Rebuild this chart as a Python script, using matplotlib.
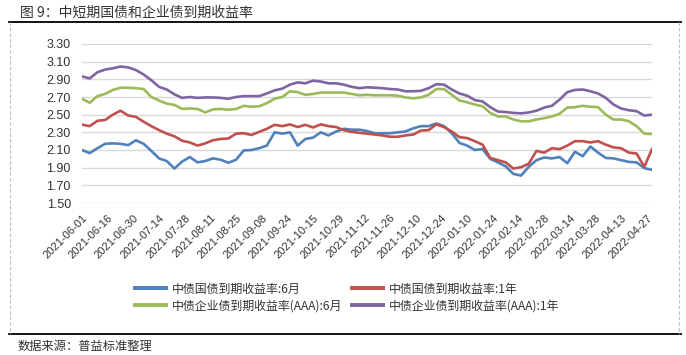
import numpy as np
import matplotlib
matplotlib.use('Agg')
import matplotlib.pyplot as plt
from matplotlib.lines import Line2D

CJK = ['Noto Sans CJK SC', 'DejaVu Sans']

# trading-day index of each sample (every 3rd trading day from 2021-06-01)
day_idx = list(range(0, 223, 3))

tick_dates = ['2021-06-01', '2021-06-16', '2021-06-30', '2021-07-14', '2021-07-28',
              '2021-08-11', '2021-08-25', '2021-09-08', '2021-09-24', '2021-10-15',
              '2021-10-29', '2021-11-12', '2021-11-26', '2021-12-10', '2021-12-24',
              '2022-01-10', '2022-01-24', '2022-02-14', '2022-02-28', '2022-03-14',
              '2022-03-28', '2022-04-13', '2022-04-27']

gov_6m = [2.10, 2.065, 2.12, 2.17, 2.175, 2.17, 2.155, 2.21, 2.17, 2.09,
          2.005, 1.975, 1.89, 1.97, 2.02, 1.96, 1.975, 2.005, 1.99, 1.955,
          1.99, 2.095, 2.10, 2.12, 2.15, 2.30, 2.285, 2.30, 2.15, 2.225,
          2.24, 2.30, 2.265, 2.31, 2.34, 2.33, 2.33, 2.315, 2.29, 2.29,
          2.29, 2.30, 2.31, 2.345, 2.37, 2.37, 2.40, 2.37, 2.29, 2.18,
          2.15, 2.10, 2.11, 2.00, 1.96, 1.915, 1.83, 1.81, 1.91, 1.985,
          2.015, 2.005, 2.02, 1.95, 2.08, 2.03, 2.14, 2.07, 2.01, 2.005,
          1.985, 1.965, 1.96, 1.895, 1.875]

gov_1y = [2.387, 2.37, 2.43, 2.44, 2.50, 2.545, 2.49, 2.475, 2.42, 2.37,
          2.325, 2.285, 2.255, 2.205, 2.185, 2.15, 2.175, 2.21, 2.225, 2.23,
          2.285, 2.29, 2.27, 2.305, 2.34, 2.385, 2.37, 2.39, 2.36, 2.385,
          2.355, 2.39, 2.37, 2.36, 2.325, 2.305, 2.295, 2.285, 2.275, 2.265,
          2.25, 2.25, 2.265, 2.275, 2.32, 2.325, 2.39, 2.36, 2.31, 2.245,
          2.235, 2.20, 2.16, 2.01, 1.985, 1.96, 1.89, 1.905, 1.945, 2.09,
          2.07, 2.12, 2.11, 2.15, 2.20, 2.20, 2.185, 2.20, 2.16, 2.13,
          2.12, 2.07, 2.06, 1.91, 2.11]

corp_6m = [2.68, 2.635, 2.71, 2.735, 2.78, 2.805, 2.805, 2.80, 2.79, 2.70,
           2.66, 2.625, 2.61, 2.565, 2.57, 2.565, 2.525, 2.56, 2.565, 2.555,
           2.565, 2.60, 2.59, 2.595, 2.63, 2.68, 2.70, 2.765, 2.755, 2.725,
           2.735, 2.75, 2.75, 2.75, 2.75, 2.735, 2.72, 2.725, 2.72, 2.72,
           2.72, 2.715, 2.695, 2.685, 2.695, 2.725, 2.79, 2.79, 2.725, 2.66,
           2.64, 2.615, 2.595, 2.52, 2.48, 2.48, 2.445, 2.425, 2.425, 2.445,
           2.46, 2.48, 2.51, 2.58, 2.585, 2.60, 2.59, 2.585, 2.50, 2.445,
           2.445, 2.425, 2.37, 2.285, 2.28]

corp_1y = [2.934, 2.91, 2.98, 3.01, 3.025, 3.045, 3.035, 3.005, 2.955, 2.89,
           2.815, 2.785, 2.73, 2.69, 2.70, 2.69, 2.695, 2.695, 2.69, 2.68,
           2.70, 2.71, 2.71, 2.71, 2.74, 2.775, 2.795, 2.84, 2.865, 2.855,
           2.885, 2.875, 2.855, 2.855, 2.84, 2.815, 2.80, 2.81, 2.805, 2.80,
           2.79, 2.785, 2.765, 2.765, 2.77, 2.80, 2.845, 2.84, 2.785, 2.74,
           2.715, 2.665, 2.65, 2.585, 2.535, 2.53, 2.52, 2.515, 2.525, 2.545,
           2.58, 2.60, 2.67, 2.755, 2.78, 2.785, 2.765, 2.74, 2.69, 2.615,
           2.57, 2.55, 2.54, 2.49, 2.50]

series_names = ['中债国债到期收益率:6月', '中债国债到期收益率:1年',
                '中债企业债到期收益率(AAA):6月', '中债企业债到期收益率(AAA):1年']
series_colors = ['#4F81BD', '#C0504D', '#9BBB59', '#8064A2']

y_ticks = [1.50, 1.70, 1.90, 2.10, 2.30, 2.50, 2.70, 2.90, 3.10, 3.30]


def main():
    fig = plt.figure(figsize=(6.86, 3.55), dpi=100)
    fig.patch.set_facecolor('white')
    W, H = 686.0, 355.0

    # frame: solid top/bottom rules, dashed sides
    fig.add_artist(Line2D([9 / W, 681 / W], [1 - 22 / H, 1 - 22 / H], color='black', lw=1.3))
    fig.add_artist(Line2D([9 / W, 681 / W], [1 - 334 / H, 1 - 334 / H], color='black', lw=1.3))
    for xp in (9.5, 678.5):
        fig.add_artist(Line2D([xp / W, xp / W], [1 - 22 / H, 1 - 334 / H],
                              color='#BFBFBF', lw=0.8, ls=(0, (3, 2))))

    fig.text(20 / W, 1 - 12.5 / H, '图 9：中短期国债和企业债到期收益率', family=CJK,
             fontsize=10, color='#333333', va='center', ha='left')
    fig.text(18 / W, 1 - 346 / H, '数据来源：普益标准整理', family=CJK,
             fontsize=8.8, color='#333333', va='center', ha='left')

    ax = fig.add_axes([82 / W, 1 - 203 / H, 570 / W, 159 / H])
    all_series = [gov_6m, gov_1y, corp_6m, corp_1y]
    for vals, name, col in zip(all_series, series_names, series_colors):
        ax.plot(day_idx, vals, color=col, lw=1.9, label=name, solid_joinstyle='round')

    ax.set_xlim(0, 222)
    ax.set_ylim(1.50, 3.30)
    ax.set_yticks(y_ticks)
    ax.set_yticklabels(['%.2f' % v for v in y_ticks], family='Liberation Sans',
                       fontsize=9, color='#333333')
    ax.set_xticks(np.arange(0, 10 * len(tick_dates), 10))
    ax.set_xticklabels(tick_dates, rotation=45, ha='right', va='top',
                       rotation_mode='anchor', family='Liberation Sans',
                       fontsize=8, color='#333333')
    ax.tick_params(axis='both', length=0)
    ax.tick_params(axis='y', pad=8)
    ax.tick_params(axis='x', pad=7)
    ax.grid(axis='y', color='#D9D9D9', lw=1.0)
    ax.set_axisbelow(True)
    for s in ax.spines.values():
        s.set_visible(False)

    # legend fills column by column: reorder so rows read 6M/1Y pairs
    handles, labels = ax.get_legend_handles_labels()
    order = [0, 2, 1, 3]
    leg = fig.legend([handles[i] for i in order], [labels[i] for i in order],
                     ncol=2, loc='center',
                     bbox_to_anchor=(347 / W, 1 - 297.5 / H), frameon=False,
                     prop={'family': CJK, 'size': 8.6}, handlelength=2.6,
                     handletextpad=0.5, columnspacing=0.8, labelspacing=0.35)
    for t in leg.get_texts():
        t.set_color('#333333')
    for ln in leg.get_lines():
        ln.set_linewidth(2.8)

    fig.savefig('out.png', dpi=100, facecolor='white')
    plt.close(fig)


if __name__ == '__main__':
    main()
